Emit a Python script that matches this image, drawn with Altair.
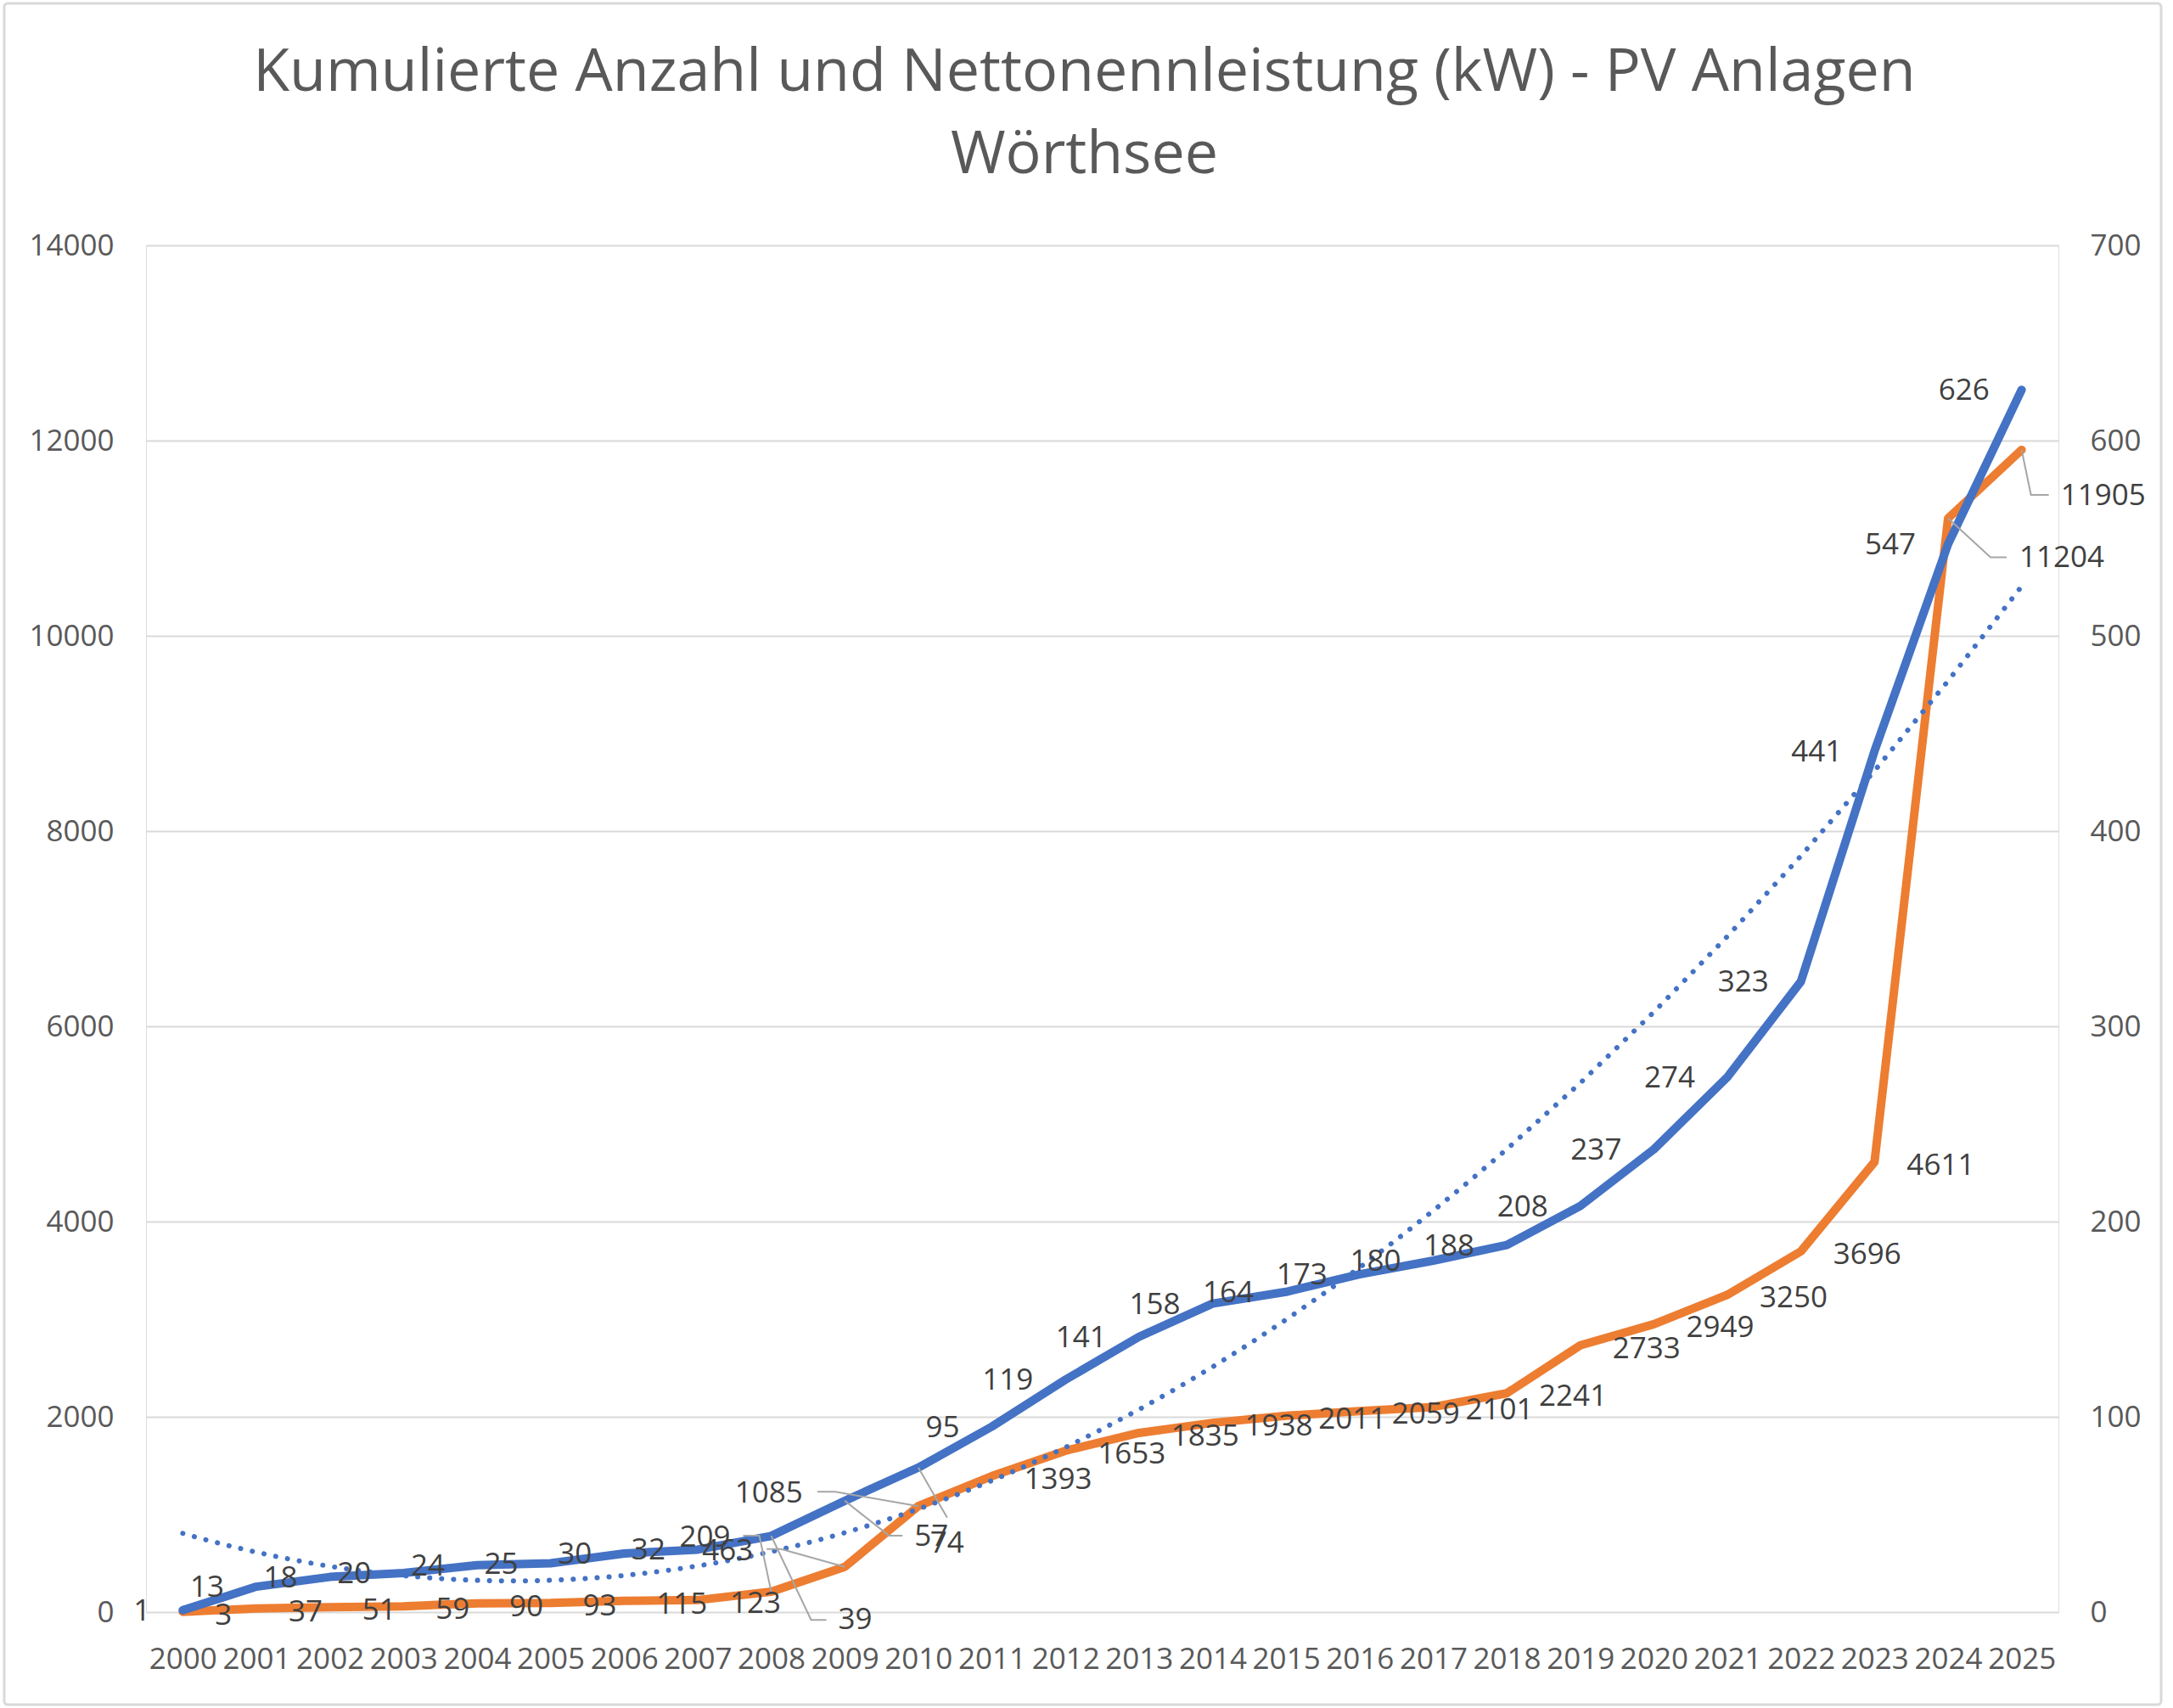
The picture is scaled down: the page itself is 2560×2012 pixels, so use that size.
import altair as alt
import pandas as pd

# ---------------- data ----------------
YEARS = list(range(2000, 2026))
KW = [3, 37, 51, 59, 90, 93, 115, 123, 209, 463, 1085, 1393, 1653, 1835, 1938,
      2011, 2059, 2101, 2241, 2733, 2949, 3250, 3696, 4611, 11204, 11905]
ANZ = [1, 13, 18, 20, 24, 25, 30, 32, 39, 57, 74, 95, 119, 141, 158, 164, 173,
       180, 188, 208, 237, 274, 323, 441, 547, 626]
TITLE = ["Kumulierte Anzahl und Nettonennleistung (kW) - PV Anlagen", "Wörthsee"]
KW_TICKS = [0, 2000, 4000, 6000, 8000, 10000, 12000, 14000]
ANZ_TICKS = [0, 100, 200, 300, 400, 500, 600, 700]

# ---------------- style / layout ----------------
W, H = 2253, 1610
PAD = {"left": 172, "top": 289, "right": 135, "bottom": 113}
FONT = "Open Sans"
BLUE, ORANGE, GRID, AXIS_TXT, LBL_TXT, LEADER = "#4472C4", "#ED7D31", "#D9D9D9", "#595959", "#404040", "#A6A6A6"
PX_YEAR = W / 26.0
KW_PER_PX = 14000.0 / H
ANZ_PER_PX = 700.0 / H

# manually moved data labels (pixel offsets from the data point): label centre, leader elbow, leader end
KW_NUDGE = {
    2008: ((-78, -64), [(-14, -66), (-33, -66)]),
    2009: ((-138, -19), [(-75, -21), (-92, -21)]),
    2010: ((-176, -15), [(-98, -17), (-119, -17)]),
    2024: ((134, 46), [(50, 46), (69, 46)]),
    2025: ((96, 54), [(11, 53), (32, 53)]),
}
ANZ_NUDGE = {
    2008: ((99, 99), [(47, 99), (65, 99)]),
    2009: ((102, 42), [(52, 41), (68, 41)]),
    2010: ((34, 89), [(34, 59)]),
}

df = pd.DataFrame({"year": YEARS, "kw": KW, "anz": ANZ})


def label_tables(values, nudges, field, per_px):
    free, moved, leaders = [], [], []
    for y, v in zip(YEARS, values):
        if y in nudges:
            (dx, dy), path = nudges[y]
            moved.append({"year": y + dx / PX_YEAR, field: v - dy * per_px, "txt": str(v)})
            pts = [(0, 0)] + path
            for i, (px, py) in enumerate(pts):
                leaders.append({"id": y, "o": i, "year": y + px / PX_YEAR, field: v - py * per_px})
        else:
            free.append({"year": y, field: v, "txt": str(v)})
    return pd.DataFrame(free), pd.DataFrame(moved), pd.DataFrame(leaders)


kw_free, kw_moved, kw_lead = label_tables(KW, KW_NUDGE, "kw", KW_PER_PX)
an_free, an_moved, an_lead = label_tables(ANZ, ANZ_NUDGE, "anz", ANZ_PER_PX)

xscale = alt.Scale(domain=[1999.5, 2025.5], nice=False, zero=False)
xaxis = alt.Axis(values=YEARS, format="d", title=None, grid=False, domain=False, ticks=False,
                 labelPadding=38, labelFontSize=35, labelFont=FONT, labelColor=AXIS_TXT,
                 labelFlush=False, labelOverlap=False)
kw_scale = alt.Scale(domain=[0, 14000], nice=False, zero=True)
an_scale = alt.Scale(domain=[0, 700], nice=False, zero=True)
kw_axis = alt.Axis(values=KW_TICKS, format="d", title=None, orient="left", grid=True, gridColor=GRID,
                   gridWidth=2, domain=False, ticks=False, labelPadding=38, labelFontSize=35,
                   labelFont=FONT, labelColor=AXIS_TXT)
an_axis = alt.Axis(values=ANZ_TICKS, format="d", title=None, orient="right", grid=False,
                   domain=False, ticks=False, labelPadding=37, labelFontSize=35,
                   labelFont=FONT, labelColor=AXIS_TXT)

X = alt.X("year:Q", scale=xscale, axis=xaxis)


def ykw(axis=None):
    return alt.Y("kw:Q", scale=kw_scale, axis=axis) if axis is not None else alt.Y("kw:Q", scale=kw_scale, axis=None)


def yan(axis=None):
    return alt.Y("anz:Q", scale=an_scale, axis=axis) if axis is not None else alt.Y("anz:Q", scale=an_scale, axis=None)


# ---------- kW (orange, left axis) ----------
kw_line = alt.Chart(df).mark_line(color=ORANGE, strokeWidth=10, strokeJoin="round", strokeCap="round").encode(
    x=X, y=ykw(kw_axis))
kw_lead_l = alt.Chart(kw_lead).mark_line(color=LEADER, strokeWidth=2).encode(
    x=X, y=ykw(), detail="id:N", order="o:Q")
kw_txt = alt.Chart(kw_free).mark_text(align="left", baseline="middle", dx=38, dy=4, fontSize=35,
                                       font=FONT, color=LBL_TXT).encode(x=X, y=ykw(), text="txt:N")
kw_txt2 = alt.Chart(kw_moved).mark_text(align="center", baseline="middle", fontSize=35,
                                         font=FONT, color=LBL_TXT).encode(x=X, y=ykw(), text="txt:N")

# ---------- Anzahl (blue, right axis) ----------
an_line = alt.Chart(df).mark_line(color=BLUE, strokeWidth=10, strokeJoin="round", strokeCap="round").encode(
    x=X, y=yan(an_axis))
trend = alt.Chart(df).transform_calculate(t="datum.year - 2000").transform_regression(
    "t", "anz", method="poly", order=2
).transform_calculate(year="datum.t + 2000").mark_line(
    color=BLUE, strokeWidth=6, strokeDash=[0.1, 14], strokeCap="round"
).encode(x=X, y=yan())
an_lead_l = alt.Chart(an_lead).mark_line(color=LEADER, strokeWidth=2).encode(
    x=X, y=yan(), detail="id:N", order="o:Q")
an_txt = alt.Chart(an_free).mark_text(align="right", baseline="middle", dx=-38, dy=1, fontSize=35,
                                       font=FONT, color=LBL_TXT).encode(x=X, y=yan(), text="txt:N")
an_txt2 = alt.Chart(an_moved).mark_text(align="center", baseline="middle", fontSize=35,
                                         font=FONT, color=LBL_TXT).encode(x=X, y=yan(), text="txt:N")

border = alt.Chart(alt.Data(values=[{"a": 1}])).mark_rect(
    fillOpacity=0, stroke=GRID, strokeWidth=3, cornerRadius=4
).encode(x=alt.value(-167), x2=alt.value(2374), y=alt.value(-285), y2=alt.value(1719))

chart = alt.layer(
    kw_line, an_line, trend, kw_lead_l, an_lead_l, kw_txt, kw_txt2, an_txt, an_txt2, border
).resolve_scale(y="independent").properties(
    width=W, height=H, autosize="none", padding=PAD,
    title=alt.TitleParams(text=TITLE, fontSize=70, font=FONT, color=AXIS_TXT, fontWeight="normal",
                          anchor="middle", lineHeight=97, offset=-271, dx=-21, baseline="alphabetic"),
).configure_view(strokeWidth=0).configure(background="white")

chart.save("out.html", embed_options={"renderer": "svg", "actions": False})
